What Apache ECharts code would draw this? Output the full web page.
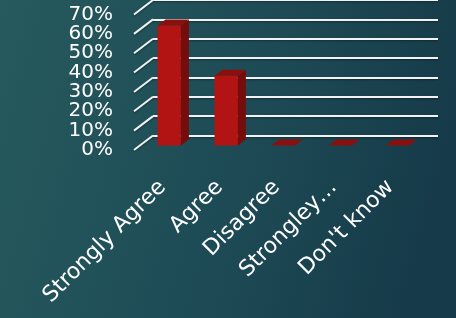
<!DOCTYPE html>
<html>
<head>
<meta charset="utf-8">
<script src="https://cdn.jsdelivr.net/npm/echarts@6/dist/echarts.min.js"></script>
<style>
  html, body { margin: 0; padding: 0; }
  #chart { width: 456px; height: 318px; }
</style>
</head>
<body>
<div id="chart"></div>
<script>
// data
const categories = ['Strongly Agree', 'Agree', 'Disagree', 'Strongley…', "Don't know"];
const values = [62, 36, 0, 0, 0];
const yTicks = [0, 10, 20, 30, 40, 50, 60, 70];

// 3d look
const WALL_DEPTH = [-19, 14.5];   // back wall -> front plane
const BAR_FRONT = [-12.3, 10];    // back wall -> bar front face
const BAR_DEPTH = [8, -6];        // bar front -> bar back
const GRID_COLOR = '#f2f2f2';
const FONT = 'DejaVu Sans';

const chart = echarts.init(document.getElementById('chart'));

const renderBar = (params, api) => {
  const p = api.coord([api.value(0), api.value(1)]);
  const base = api.coord([api.value(0), 0]);
  const w = api.size([1, 0])[0] * 0.41;
  const x0 = p[0] + BAR_FRONT[0] - w / 2;
  const x1 = x0 + w;
  const yTop = p[1] + BAR_FRONT[1];
  const yBot = base[1] + BAR_FRONT[1];
  const [dx, dy] = BAR_DEPTH;
  return {
    type: 'group',
    children: [
      {
        type: 'polygon',
        shape: { points: [[x0, yTop], [x1, yTop], [x1, yBot], [x0, yBot]] },
        style: { fill: '#b21414' },
      },
      {
        type: 'polygon',
        shape: { points: [[x1, yTop], [x1 + dx, yTop + dy], [x1 + dx, yBot + dy], [x1, yBot]] },
        style: { fill: '#760d0d' },
      },
      {
        type: 'polygon',
        shape: { points: [[x0, yTop], [x0 + dx, yTop + dy], [x1 + dx, yTop + dy], [x1, yTop]] },
        style: { fill: '#8a1010' },
      },
    ],
  };
};

// slanted part of the gridlines (side wall) + the % label at its front end
const renderTick = (params, api) => {
  const v = api.value(1);
  const y = api.coord([0, v])[1];
  const x = params.coordSys.x;
  const fx = x + WALL_DEPTH[0];
  const fy = y + WALL_DEPTH[1];
  return {
    type: 'group',
    children: [
      {
        type: 'line',
        shape: { x1: fx, y1: fy, x2: x, y2: y },
        style: {
          stroke: GRID_COLOR, lineWidth: 2,
          shadowColor: 'rgba(0,0,0,0.35)', shadowBlur: 2, shadowOffsetY: 1,
        },
      },
      {
        type: 'text',
        x: fx - 21, y: fy,
        style: {
          text: v + '%', fill: '#ffffff', fontSize: 20, fontFamily: FONT,
          align: 'right', verticalAlign: 'middle',
        },
      },
    ],
  };
};

const option = {
  backgroundColor: {
    type: 'linear', x: 0, y: 0, x2: 1, y2: 0.4,
    colorStops: [
      { offset: 0, color: '#265a5e' },
      { offset: 0.6, color: '#1d4a55' },
      { offset: 1, color: '#163a49' },
    ],
  },
  animation: false,
  grid: [
    { left: 153, right: 18, top: -1.5, bottom: 182.5 },
    { left: 134, right: 37, top: 12.5, bottom: 168.2 },
  ],
  xAxis: [
    {
      gridIndex: 0, type: 'category', data: categories,
      axisLine: { show: false }, axisTick: { show: false }, axisLabel: { show: false },
    },
    {
      gridIndex: 1, type: 'category', data: categories,
      axisLine: { show: false }, axisTick: { show: false },
      axisLabel: {
        interval: 0, rotate: 45, margin: 34, hideOverlap: false,
        color: '#ffffff', fontSize: 22, fontFamily: FONT,
      },
    },
  ],
  yAxis: [
    {
      gridIndex: 0, type: 'value', min: 0, max: 70, interval: 10,
      axisLabel: { show: false },
      splitLine: {
        lineStyle: {
          color: GRID_COLOR, width: 2,
          shadowColor: 'rgba(0,0,0,0.35)', shadowBlur: 2, shadowOffsetY: 1,
        },
      },
    },
    {
      gridIndex: 1, type: 'value', min: 0, max: 70, interval: 10,
      splitLine: { show: false }, axisLabel: { show: false },
    },
  ],
  series: [
    {
      type: 'custom', xAxisIndex: 0, yAxisIndex: 0,
      renderItem: renderTick,
      data: yTicks.map((v) => [0, v]),
      silent: true,
    },
    {
      type: 'custom', xAxisIndex: 0, yAxisIndex: 0,
      renderItem: renderBar,
      data: values.map((v, i) => [i, v]),
      z: 5,
    },
  ],
};

chart.setOption(option);
</script>
</body>
</html>
